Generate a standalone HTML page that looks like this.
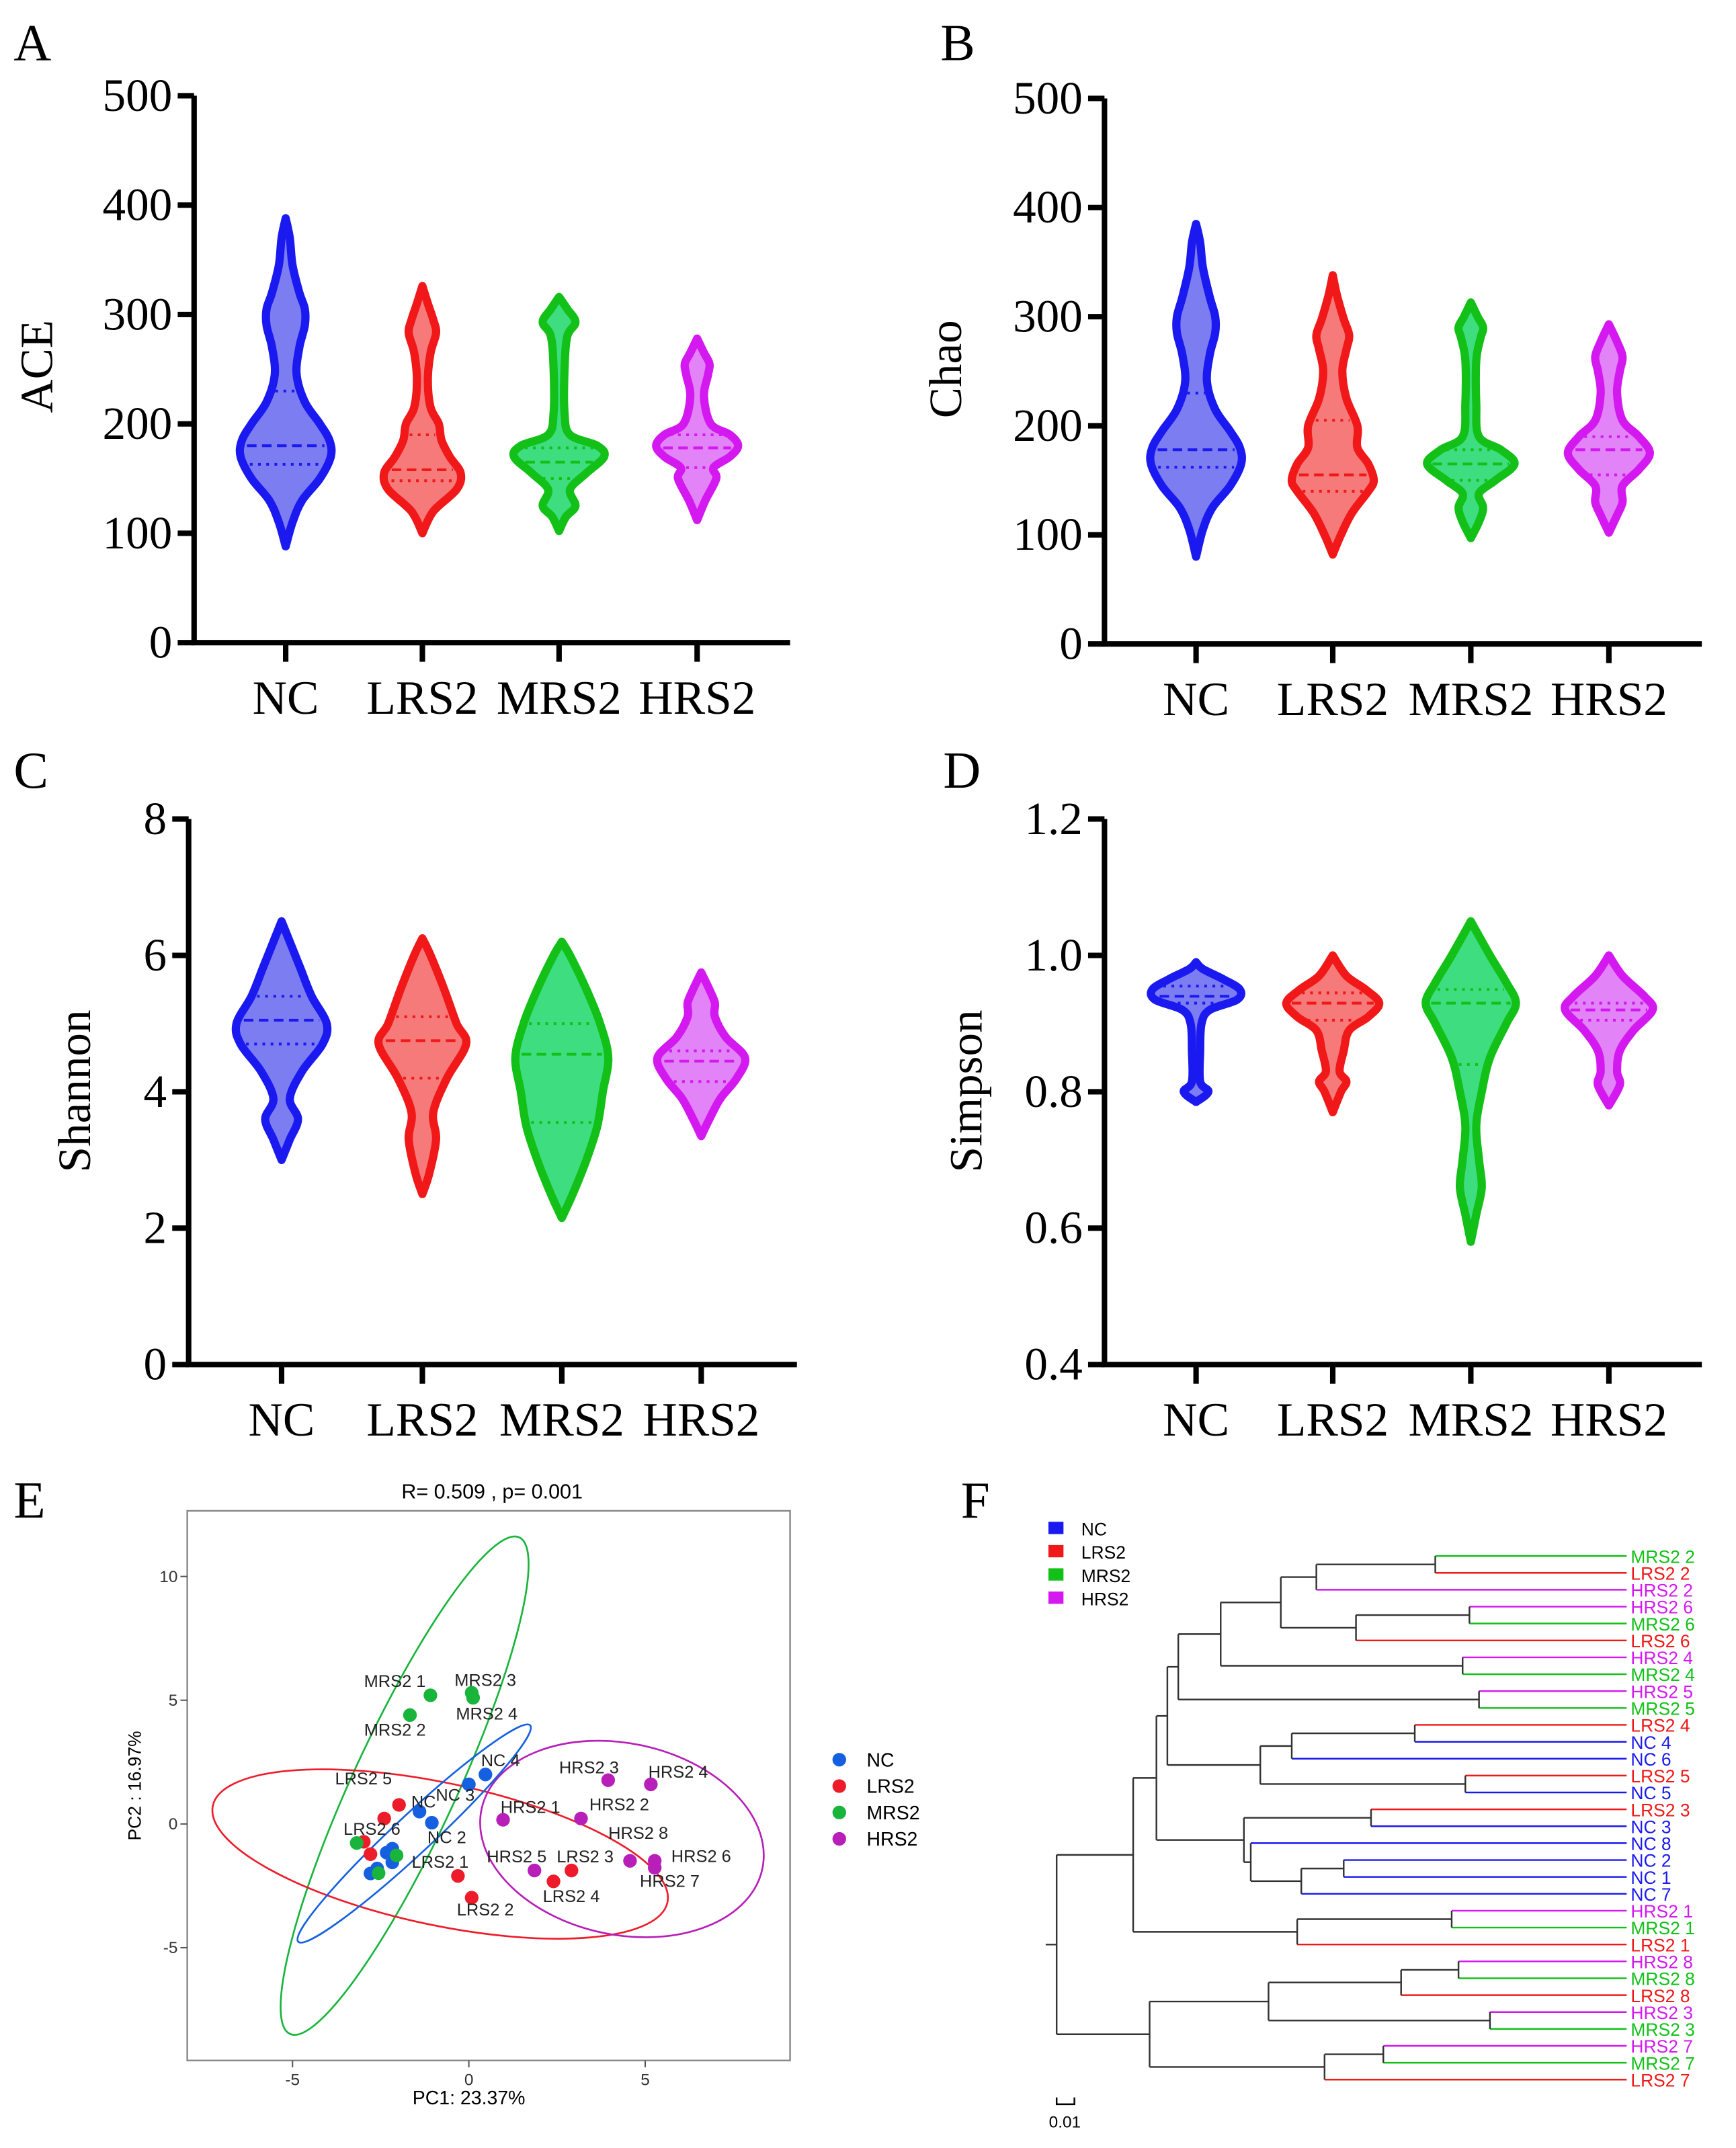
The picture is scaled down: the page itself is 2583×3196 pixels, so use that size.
<!DOCTYPE html>
<html><head><meta charset="utf-8"><style>
html,body{margin:0;padding:0;background:#fff}
svg{display:block}
</style></head><body>
<svg id="fig" xmlns="http://www.w3.org/2000/svg" width="2583" height="3196" viewBox="0 0 1270 1571" preserveAspectRatio="none">
<rect x="0" y="0" width="1270" height="1571" fill="#fff"/>
</svg>
<script>
// ---------- data ----------
const groups = ["NC","LRS2","MRS2","HRS2"];
const strokeCols = ["#1a1af0","#f01818","#12c018","#d418f0"];
const fillCols = ["#7d7df2","#f77a7a","#3ede80","#e283f7"];
const aceProfiles = [
 [[88,0],[110,5],[130,12],[150,25],[170,33],[185,32],[200,25],[220,14],[245,8],[270,10],[290,14],[305,14],[320,10],[345,5],[370,3],[388,0]],
 [[100,0],[120,8],[140,25],[155,28],[170,20],[185,14],[200,12],[215,6],[240,4],[265,6],[283,10],[295,8],[310,4],[326,0]],
 [[102,0],[115,5],[125,12],[140,8],[155,20],[170,33],[180,28],[190,8],[210,4],[250,4],[280,6],[293,12],[305,6],[316,0]],
 [[112,0],[130,6],[150,14],[160,12],[170,24],[180,30],[190,24],[200,10],[225,5],[245,8],[255,9],[265,5],[278,0]]];
const aceStats = [[180,163,230],[158,148,190],[165,150,178],[178,160,190]];
const chaoProfiles = [
 [[80,0],[105,5],[125,12],[145,25],[165,33],[180,32],[195,25],[215,14],[240,8],[265,10],[285,14],[300,14],[318,10],[345,5],[368,3],[385,0]],
 [[82,0],[100,6],[120,14],[140,26],[150,30],[165,26],[180,18],[200,18],[225,10],[250,7],[270,10],[283,12],[298,8],[320,3],[338,0]],
 [[97,0],[112,6],[125,9],[138,6],[150,18],[165,32],[178,22],[190,6],[220,4],[260,4],[280,7],[290,9],[300,5],[313,0]],
 [[102,0],[118,6],[130,10],[145,10],[160,22],[175,30],[190,22],[205,10],[230,6],[250,8],[263,10],[277,6],[293,0]]];
const chaoStats = [[178,162,230],[155,140,205],[165,150,178],[178,155,190]];
const shannonProfiles = [
 [[3.0,0],[3.3,6],[3.6,12],[3.9,6],[4.3,15],[4.7,30],[5.0,33],[5.4,22],[5.8,14],[6.1,8],[6.5,0]],
 [[2.5,0],[2.8,5],[3.3,10],[3.7,8],[4.2,18],[4.7,32],[5.0,25],[5.5,16],[6.0,6],[6.25,0]],
 [[2.15,0],[2.5,8],[3.0,18],[3.5,26],[4.0,30],[4.5,34],[5.0,28],[5.5,18],[6.0,6],[6.2,0]],
 [[3.35,0],[3.6,6],[3.9,14],[4.2,26],[4.5,32],[4.8,18],[5.1,10],[5.3,10],[5.5,6],[5.75,0]]];
const shannonStats = [[5.05,4.7,5.4],[4.75,4.2,5.1],[4.55,3.55,5.0],[4.45,4.15,4.6]];
const simpsonProfiles = [
 [[0.785,0],[0.80,9],[0.815,3],[0.86,3],[0.90,4],[0.92,10],[0.935,30],[0.95,32],[0.965,20],[0.98,5],[0.99,0]],
 [[0.77,0],[0.80,6],[0.815,10],[0.83,5],[0.86,8],[0.89,12],[0.91,26],[0.93,34],[0.95,24],[0.97,10],[1.0,0]],
 [[0.58,0],[0.62,4],[0.66,8],[0.70,6],[0.75,4],[0.80,8],[0.85,14],[0.90,26],[0.93,33],[0.96,26],[1.0,14],[1.05,0]],
 [[0.78,0],[0.81,8],[0.83,6],[0.86,8],[0.89,18],[0.92,32],[0.94,26],[0.97,10],[1.0,0]]];
const simpsonStats = [[0.94,0.93,0.955],[0.93,0.905,0.945],[0.93,0.84,0.95],[0.92,0.905,0.93]];
const aceTicks = [0,100,200,300,400,500];
const shannonTicks = [0,2,4,6,8];
const simpsonTicks = ["0.4","0.6","0.8","1.0","1.2"];

// PCoA
const pcaGroups = ["NC","LRS2","MRS2","HRS2"];
const pcaCols = ["#1560e0","#ee1c2a","#18b43c","#b81fb8"];
const pcX = [[0.47,0,-1.4,-1.05,-2.6,-2.17,-2.17,-2.79,-2.33],[-1.98,-2.4,-2.98,-2.79,-0.31,0.08,2.4,2.91],[-1.09,0.08,-1.67,-3.18,-2.05,-2.56,0.12],[3.95,5.16,0.97,3.18,1.86,4.57,5.27,5.27]];
const pcY = [[2.0,1.6,0.5,0.05,-1.8,-1.0,-1.55,-2.0,-1.16],[0.77,0.22,-0.72,-1.22,-2.1,-2.98,-2.32,-1.88],[5.2,5.3,4.4,-0.77,-1.27,-1.99,5.1],[1.77,1.6,0.17,0.22,-1.88,-1.49,-1.49,-1.77]];
const pcLabels = [["NC 4","NC 3","NC","NC 2","","","","",""],["LRS2 5","","LRS2 6","","LRS2 1","LRS2 2","LRS2 4","LRS2 3"],["MRS2 1","MRS2 3","MRS2 2","","","","MRS2 4"],["HRS2 3","HRS2 4","HRS2 1","HRS2 2","HRS2 5","HRS2 8","HRS2 6","HRS2 7"]];
const pcXTicks = [-5,0,5];
const pcYTicks = [-5,0,5,10];

const leaves = ["MRS2 2","LRS2 2","HRS2 2","HRS2 6","MRS2 6","LRS2 6","HRS2 4","MRS2 4","HRS2 5","MRS2 5","LRS2 4","NC 4","NC 6","LRS2 5","NC 5","LRS2 3","NC 3","NC 8","NC 2","NC 1","NC 7","HRS2 1","MRS2 1","LRS2 1","HRS2 8","MRS2 8","LRS2 8","HRS2 3","MRS2 3","HRS2 7","MRS2 7","LRS2 7"];
const merges = [
 [0,1,1050],["n0",2,963],[3,4,1075],["n2",5,992],["n1","n3",937],[6,7,1070],["n4","n5",893],[8,9,1082],["n6","n7",862],
 [10,11,1035],["n9",12,945],[13,14,1072],["n10","n11",922],["n8","n12",854],
 [15,16,1003],[18,19,983],["n15",20,952],[17,"n16",915],["n14","n17",910],["n13","n18",846],
 [21,22,1062],["n20",23,949],["n19","n21",829],[24,25,1067],["n23",26,1025],[27,28,1090],["n24","n25",928],
 [29,30,1012],["n27",31,969],["n26","n28",841],["n22","n29",773]];

// ---------- helpers ----------
const svg = document.getElementById('fig');
const NS = "http://www.w3.org/2000/svg";
const SERIF = '"Liberation Serif", serif';
const SANS = '"Liberation Sans", sans-serif';
function mk(tag, attrs, parent){const e=document.createElementNS(NS,tag);for(const k in attrs)e.setAttribute(k,attrs[k]);(parent||svg).appendChild(e);return e;}
function txt(s, attrs, parent){const e=mk('text',attrs,parent);e.textContent=s;return e;}
function smooth(pts){ // catmull-rom -> bezier
  let d = "";
  for(let i=0;i<pts.length-1;i++){
    const p0=pts[Math.max(0,i-1)],p1=pts[i],p2=pts[i+1],p3=pts[Math.min(pts.length-1,i+2)];
    const c1=[p1[0]+(p2[0]-p0[0])/6,p1[1]+(p2[1]-p0[1])/6];
    const c2=[p2[0]-(p3[0]-p1[0])/6,p2[1]-(p3[1]-p1[1])/6];
    d += ` C${c1[0]},${c1[1]} ${c2[0]},${c2[1]} ${p2[0]},${p2[1]}`;
  }
  return d;
}

function violinPanel(cfg){
  const g = mk('g',{});
  
  
  const ys = v => cfg.y0 + (v - cfg.vmin)/(cfg.vmax-cfg.vmin)*(cfg.y1-cfg.y0);
  const xs = i => cfg.xc[i];
  cfg.profiles.forEach((p,i)=>{
    const cx = xs(i);
    const left = p.map(q=>[cx-q[1],ys(q[0])]);
    const right = p.slice().reverse().map(q=>[cx+q[1],ys(q[0])]);
    const d = `M${left[0][0]},${left[0][1]}`+smooth(left)+smooth(right)+"Z";
    const v = mk('path',{d:d,fill:fillCols[i],stroke:strokeCols[i],'stroke-width':6,'stroke-linejoin':'round'},g);
    
    
    const wAt = val=>{for(let k=0;k<p.length-1;k++){if(val>=p[k][0]&&val<=p[k+1][0]){const t=(val-p[k][0])/(p[k+1][0]-p[k][0]);return p[k][1]+t*(p[k+1][1]-p[k][1]);}}return 0;};
    cfg.stats[i].forEach((val,j)=>{
      const w = wAt(val)-4; if(w<=0) return;
      const l = mk('line',{x1:cx-w,x2:cx+w,y1:ys(val),y2:ys(val),stroke:strokeCols[i],'stroke-width':2,'stroke-dasharray':j==0?'7,4':'2,4'},g);
      
      
    });
  });
  const ax = mk('path',{d:`M${cfg.ax},${cfg.y1} L${cfg.ax},${cfg.y0} L${cfg.axEnd},${cfg.y0}`,fill:'none',stroke:'#000','stroke-width':4},g);
   
  cfg.ticks.forEach(t=>{
    const y = ys(parseFloat(t));
    mk('line',{x1:cfg.ax-12,x2:cfg.ax,y1:y,y2:y,stroke:'#000','stroke-width':4},g);
    const tl = txt(String(t),{x:cfg.ax-16,y:y+11,'text-anchor':'end','font-size':34,'font-family':SERIF},g);
     
  });
  groups.forEach((gname,i)=>{
    mk('line',{x1:xs(i),x2:xs(i),y1:cfg.y0,y2:cfg.y0+14,stroke:'#000','stroke-width':4},g);
    const tl = txt(gname,{x:xs(i),y:cfg.y0+52,'text-anchor':'middle','font-size':35,'font-family':SERIF},g);
     
  });
  const yt = txt(cfg.title,{x:0,y:0,transform:`translate(${cfg.tx},${cfg.ty}) rotate(-90)`,'text-anchor':'middle','font-size':34,'font-family':SERIF},g);
   
  const pl = txt(cfg.letter,{x:cfg.lx,y:cfg.ly,'font-size':38,'font-family':SERIF},g);
   
}

violinPanel({name:'panel-a-ace',profiles:aceProfiles,stats:aceStats,ticks:aceTicks,vmin:0,vmax:500,y0:470,y1:70,ax:142,axEnd:578,xc:[209,309,409,510],title:'ACE',tx:38,ty:268,letter:'A',lx:10,ly:44});
violinPanel({name:'panel-b-chao',profiles:chaoProfiles,stats:chaoStats,ticks:aceTicks,vmin:0,vmax:500,y0:471,y1:72,ax:808,axEnd:1245,xc:[875,975,1076,1177],title:'Chao',tx:703,ty:270,letter:'B',lx:688,ly:44});
violinPanel({name:'panel-c-shannon',profiles:shannonProfiles,stats:shannonStats,ticks:shannonTicks,vmin:0,vmax:8,y0:998,y1:599,ax:138,axEnd:583,xc:[206,309,411,513],title:'Shannon',tx:66,ty:798,letter:'C',lx:10,ly:576});
violinPanel({name:'panel-d-simpson',profiles:simpsonProfiles,stats:simpsonStats,ticks:simpsonTicks,vmin:0.4,vmax:1.2,y0:998,y1:599,ax:808,axEnd:1245,xc:[875,975,1076,1177],title:'Simpson',tx:718,ty:798,letter:'D',lx:690,ly:576});

// ---------- Panel E ----------
(function(){
  const g = mk('g',{});
  
  
  const px = v => 343 + v*25.8;
  const py = v => 1334 - v*18.1;
  // label offsets from point (layout, not data)
  const offs = [[[11,-10],[-10,8],[3,-7],[11,11]],
    [[-26,-19],null,[6,-9],null,[-13,-10],[10,9],[13,11],[10,-10]],
    [[-26,-10],[10,-9],[-11,11],null,null,null,[10,12]],
    [[-14,-9],[20,-9],[20,-9],[28,-10],[-13,-10],[6,-20],[34,-3],[11,10]]];
  const pl = txt('E',{x:10,y:1110,'font-size':38,'font-family':SERIF},g);
   
  const box = mk('rect',{x:137,y:1105,width:441,height:402,fill:'none',stroke:'#888','stroke-width':1.2},g);
   
  const t = txt('R= 0.509 ,  p= 0.001',{x:360,y:1096,'text-anchor':'middle','font-size':15,'font-family':SANS,'xml:space':'preserve'},g);
   
  pcXTicks.forEach(v=>{mk('line',{x1:px(v),x2:px(v),y1:1507,y2:1512,stroke:'#555'},g);
    const l=txt(String(v),{x:px(v),y:1525,'text-anchor':'middle','font-size':12,'font-family':SANS,fill:'#333'},g);
     });
  pcYTicks.forEach(v=>{mk('line',{x1:132,x2:137,y1:py(v),y2:py(v),stroke:'#555'},g);
    const l=txt(String(v),{x:130,y:py(v)+4,'text-anchor':'end','font-size':12,'font-family':SANS,fill:'#333'},g);
     });
  const xt = txt('PC1: 23.37%',{x:343,y:1539,'text-anchor':'middle','font-size':14,'font-family':SANS},g);
   
  const yt = txt('PC2 : 16.97%',{x:0,y:0,transform:'translate(103,1306) rotate(-90)','text-anchor':'middle','font-size':13,'font-family':SANS},g);
   
  const ells = [[296,1306,200,38,114.8,2],[322,1356,170,52,12,1],[455,1345,105,70,12,3],[303,1341,116,14,137,0]];
  ells.forEach(e=>{const el=mk('ellipse',{cx:e[0],cy:e[1],rx:e[2],ry:e[3],transform:`rotate(${e[4]} ${e[0]} ${e[1]})`,fill:'none',stroke:pcaCols[e[5]],'stroke-width':1.3},g);
     });
  pcX.forEach((xs,gi)=>{xs.forEach((xv,k)=>{
    const cxp = px(xv), cyp = py(pcY[gi][k]);
    const c = mk('circle',{cx:cxp,cy:cyp,r:5,fill:pcaCols[gi]},g);
     
    const lb = pcLabels[gi][k];
    const o = offs[gi][k];
    if(lb && o){const l=txt(lb,{x:cxp+o[0],y:cyp+o[1]+4,'text-anchor':'middle','font-size':12.5,'font-family':SANS,fill:'#222'},g);
       }
  });});
  pcaGroups.forEach((gn,i)=>{
    const c=mk('circle',{cx:614,cy:1287+i*19.3,r:5,fill:pcaCols[i]},g);
     
    const l=txt(gn,{x:634,y:1292+i*19.3,'font-size':14,'font-family':SANS},g);
     
  });
})();

// ---------- Panel F ----------
(function(){
  const g = mk('g',{});
  
  
  const pl = txt('F',{x:703,y:1110,'font-size':38,'font-family':SERIF},g);
   
  const colOf = s => strokeCols[groups.indexOf(s.split(' ')[0])];
  const leafX = 1190, top = 1138, step = (1521-1138)/31;
  const pos = {};
  leaves.forEach((lf,i)=>{pos[i]={x:leafX,y:top+i*step,leaf:true};
    const l=txt(lf,{x:leafX+3,y:top+i*step+5,'font-size':13,'font-family':SANS,fill:colOf(lf)},g);
     });
  merges.forEach((m,mi)=>{
    const a = pos[m[0]], b = pos[m[1]], x = m[2];
    [[m[0],a],[m[1],b]].forEach(([id,c])=>{
      const col = c.leaf ? colOf(leaves[id]) : '#333';
      const ln = mk('line',{x1:x,x2:c.x,y1:c.y,y2:c.y,stroke:col,'stroke-width':1.2},g);
       
    });
    const v = mk('line',{x1:x,x2:x,y1:a.y,y2:b.y,stroke:'#333','stroke-width':1.2},g);
     
    pos["n"+mi] = {x:x,y:(a.y+b.y)/2,leaf:false};
  });
  const root = pos["n"+(merges.length-1)];
  mk('line',{x1:root.x-8,x2:root.x,y1:root.y,y2:root.y,stroke:'#333','stroke-width':1.2},g);
  groups.forEach((gn,i)=>{
    const r=mk('rect',{x:767,y:1113+i*17,width:11,height:9,fill:strokeCols[i]},g);
     
    const l=txt(gn,{x:791,y:1123+i*17,'font-size':13,'font-family':SANS},g);
     
  });
  mk('path',{d:'M773,1534 L773,1539 L786,1539 L786,1534',fill:'none',stroke:'#000','stroke-width':1.2},g);
  const sb=txt('0.01',{x:779,y:1556,'text-anchor':'middle','font-size':12,'font-family':SANS},g);
   
})();
</script>
</body></html>
